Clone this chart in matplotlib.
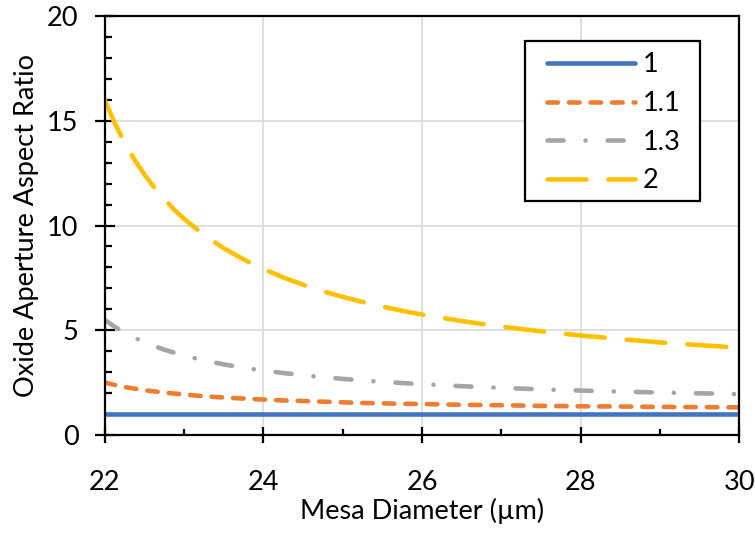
import matplotlib
matplotlib.use("Agg")
import matplotlib.pyplot as plt
from matplotlib.ticker import MultipleLocator
from matplotlib.patches import Rectangle

plt.rcParams['font.family'] = ['Lato', 'DejaVu Sans']

diameter = [22, 22.125, 22.25, 22.375, 22.5, 22.625, 22.75, 22.875, 23, 23.25, 23.5, 23.75,
            24, 24.25, 24.5, 24.75, 25, 25.25, 25.5, 25.75, 26, 26.5, 27, 27.5, 28, 28.5,
            29, 29.5, 30]
ratio_1 = [1.0] * 29
ratio_1_1 = [2.50, 2.39, 2.29, 2.21, 2.14, 2.08, 2.02, 1.98, 1.93, 1.85, 1.79, 1.74,
             1.69, 1.65, 1.62, 1.59, 1.56, 1.53, 1.51, 1.49, 1.48, 1.44, 1.42, 1.39, 1.37, 1.36,
             1.34, 1.33, 1.32]
ratio_1_3 = [5.49, 5.16, 4.88, 4.64, 4.43, 4.24, 4.07, 3.93, 3.79, 3.56, 3.37, 3.21,
             3.07, 2.96, 2.85, 2.76, 2.68, 2.60, 2.54, 2.48, 2.43, 2.33, 2.25, 2.18, 2.12, 2.07,
             2.03, 1.99, 1.95]
ratio_2 = [15.97, 14.87, 13.94, 13.13, 12.42, 11.80, 11.25, 10.75, 10.31, 9.55, 8.91, 8.38,
           7.92, 7.52, 7.17, 6.86, 6.59, 6.35, 6.13, 5.93, 5.75, 5.44, 5.17, 4.95, 4.75, 4.58,
           4.42, 4.29, 4.17]
labels = ["1", "1.1", "1.3", "2"]

FS = 19.5
fig = plt.figure(figsize=(7.55, 5.34), dpi=100)
ax = fig.add_axes([0.139, 0.1854, 0.840, 0.7846])

lw = 3.3
ax.plot(diameter, ratio_1, color='#4472C4', lw=lw, solid_capstyle='round', label=labels[0])
ax.plot(diameter, ratio_1_1, color='#ED7D31', lw=lw, dash_capstyle='round',
        dashes=(2.3, 2.4), label=labels[1])
ax.plot(diameter, ratio_1_3, color='#A5A5A5', lw=lw, dash_capstyle='round',
        dashes=(3.5, 4.8, 0.02, 4.8), label=labels[2])
ax.plot(diameter, ratio_2, color='#FFC000', lw=lw, dash_capstyle='round',
        dashes=(8.5, 4.8), label=labels[3])

ax.set_xlim(22, 30)
ax.set_ylim(0, 20)
ax.xaxis.set_major_locator(MultipleLocator(2))
ax.xaxis.set_minor_locator(MultipleLocator(1))
ax.yaxis.set_major_locator(MultipleLocator(5))
ax.yaxis.set_minor_locator(MultipleLocator(1))

ax.grid(True, which='major', color='#D9D9D9', lw=1.2)
ax.set_axisbelow(True)
for s in ax.spines.values():
    s.set_color('black')
    s.set_linewidth(1.6)

ax.tick_params(axis='y', which='major', direction='inout', length=14, width=1.6,
               labelsize=FS, pad=12, right=False)
ax.tick_params(axis='y', which='minor', direction='in', length=5, width=1.6, right=False)
ax.tick_params(axis='x', which='major', direction='inout', length=11, width=1.6,
               labelsize=FS, pad=20, top=False)
ax.tick_params(axis='x', which='minor', direction='in', length=4.5, width=1.6, top=False)

ax.set_xlabel("Mesa Diameter (µm)", fontsize=FS, labelpad=2)
ax.set_ylabel("Oxide Aperture Aspect Ratio", fontsize=FS, labelpad=6)

# legend frame
ax.add_patch(Rectangle((0.6625, 0.5585), 0.276, 0.3818, transform=ax.transAxes,
                       facecolor='white', edgecolor='black', lw=1.6, zorder=4))
leg = ax.legend(loc='upper left', bbox_to_anchor=(0.697, 0.913), borderaxespad=0,
                fontsize=FS, handlelength=3.25, handletextpad=0.3, labelspacing=0.5,
                borderpad=0, frameon=False)
leg.set_zorder(5)

fig.savefig("out.png", dpi=100)
